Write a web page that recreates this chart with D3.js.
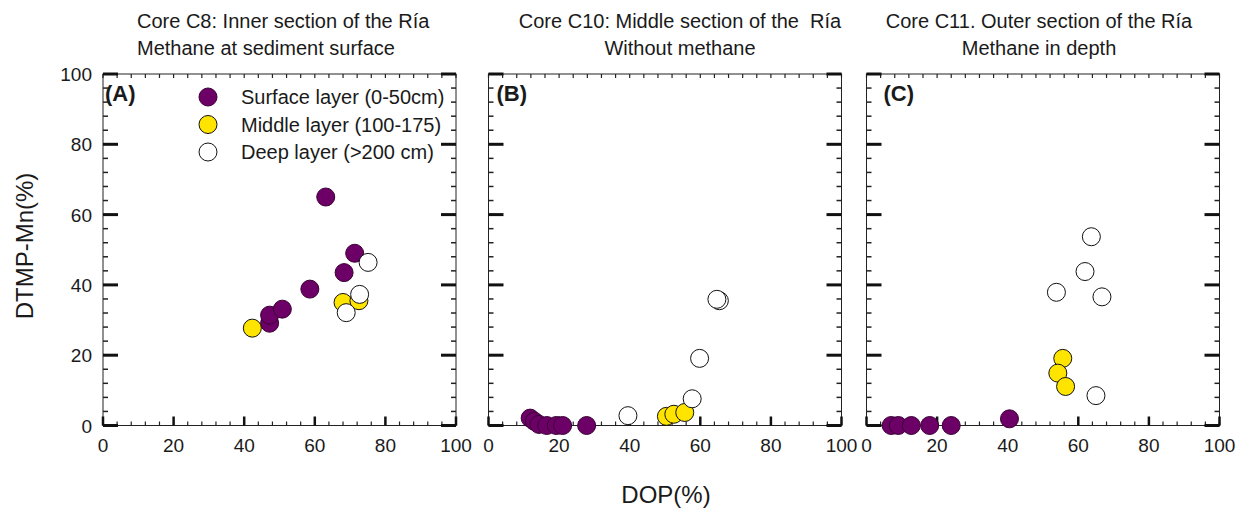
<!DOCTYPE html>
<html lang="en">
<head>
    <meta charset="utf-8"/>
    <title>DTMP-Mn vs DOP</title>
    <script src="https://d3js.org/d3.v7.min.js"></script>
    <style>
        body { margin: 0; background: #fff; }
        svg text { font-family: "Liberation Sans", Arial, sans-serif; fill: #1a1a1a; white-space: pre; }
    </style>
</head>
<body>
    <svg id="chart" width="1242" height="511"></svg>

    <script>
        // panel titles
        const panelLetters = ["(A)", "(B)", "(C)"];
        const titleLine1 = ["Core C8: Inner section of the Ría", "Core C10: Middle section of the  Ría", "Core C11. Outer section of the Ría"];
        const titleLine2 = ["Methane at sediment surface", "Without methane", "Methane in depth"];
        const legendLabels = ["Surface layer (0-50cm)", "Middle layer (100-175)", "Deep layer (>200 cm)"];
        const tickValues = [0, 20, 40, 60, 80, 100];

        // [DOP, DTMP-Mn] pairs
        const surfaceA = [[47.2, 29.1], [47.2, 31.4], [50.8, 33.1], [58.6, 38.8], [68.3, 43.5], [71.3, 49.0], [63.1, 65.0]];
        const middleA = [[42.3, 27.7], [68.0, 35.0], [72.5, 35.5]];
        const deepA = [[75.1, 46.4], [72.7, 37.3], [68.9, 32.1]];

        const surfaceB = [[11.8, 2.1], [13.0, 1.2], [14.3, 0.3], [16.5, 0], [19.2, 0], [21.0, 0], [27.8, 0]];
        const middleB = [[50.4, 2.6], [52.5, 3.2], [55.6, 3.7]];
        const deepB = [[39.5, 2.8], [57.7, 7.6], [59.8, 19.1], [65.4, 35.5], [64.7, 35.9]];

        const surfaceC = [[7.0, 0], [9.0, 0], [12.7, 0], [17.9, 0], [24.0, 0], [40.5, 1.9]];
        const middleC = [[55.6, 19.1], [54.2, 14.9], [56.4, 11.1]];
        const deepC = [[63.7, 53.7], [61.9, 43.8], [53.8, 37.9], [66.7, 36.6], [65.0, 8.5]];

        const surfaceSets = [surfaceA, surfaceB, surfaceC];
        const middleSets = [middleA, middleB, middleC];
        const deepSets = [deepA, deepB, deepC];

        const colors = {surface: "#6c0066", middle: "#ffe400", deep: "#ffffff"};

        // layout
        const panelLeft = [103, 488.5, 866.5];
        const panelW = 353;
        const plotTop = 74, plotBottom = 425.5;
        const letterOffset = [2, 8, 17];
        const titleX = [137, 680, 1039];
        const titleAnchor = ["start", "middle", "middle"];
        const r = 9;

        const svg = d3.select('#chart');
        const y = d3.scaleLinear().domain([0, 100]).range([plotBottom, plotTop]);

        function drawPanel(i) {
            const x = d3.scaleLinear().domain([0, 100]).range([panelLeft[i], panelLeft[i] + panelW]);
            const g = svg.append('g');
            const minor = d3.range(0, 101, 4);

            // frame
            g.append('rect')
                .attr('x', x(0)).attr('y', y(100))
                .attr('width', x(100) - x(0)).attr('height', y(0) - y(100))
                .attr('fill', 'none').attr('stroke', '#222').attr('stroke-width', 1);

            // minor ticks on all four sides
            minor.forEach(v => {
                g.append('line').attr('x1', x(v)).attr('x2', x(v)).attr('y1', y(100)).attr('y2', y(100) + 4)
                    .attr('stroke', '#222').attr('stroke-width', 1.2);
                g.append('line').attr('x1', x(v)).attr('x2', x(v)).attr('y1', y(0)).attr('y2', y(0) - 4)
                    .attr('stroke', '#222').attr('stroke-width', 1.2);
                g.append('line').attr('x1', x(0)).attr('x2', x(0) + 5).attr('y1', y(v)).attr('y2', y(v))
                    .attr('stroke', '#222').attr('stroke-width', 1.5);
                g.append('line').attr('x1', x(100)).attr('x2', x(100) - 5).attr('y1', y(v)).attr('y2', y(v))
                    .attr('stroke', '#222').attr('stroke-width', 1.5);
            });

            // major ticks
            tickValues.forEach(v => {
                g.append('line').attr('x1', x(v)).attr('x2', x(v)).attr('y1', y(0)).attr('y2', y(0) - 9)
                    .attr('stroke', '#111').attr('stroke-width', 2.5);
                g.append('line').attr('x1', x(0)).attr('x2', x(0) + 15).attr('y1', y(v)).attr('y2', y(v))
                    .attr('stroke', '#111').attr('stroke-width', 3);
                g.append('line').attr('x1', x(100)).attr('x2', x(100) - 15).attr('y1', y(v)).attr('y2', y(v))
                    .attr('stroke', '#111').attr('stroke-width', 3);
            });

            // x tick labels
            g.selectAll('.xt').data(tickValues).enter().append('text')
                .attr('x', d => x(d)).attr('y', 452)
                .attr('text-anchor', 'middle')
                .style('font-size', '19px')
                .text(d => d);

            // y tick labels only on first panel
            if (i === 0) {
                g.selectAll('.yt').data(tickValues).enter().append('text')
                    .attr('x', 92).attr('y', d => y(d) + 7)
                    .attr('text-anchor', 'end')
                    .style('font-size', '19px')
                    .text(d => d);
            }

            // titles
            g.append('text').attr('x', titleX[i]).attr('y', 28)
                .attr('text-anchor', titleAnchor[i]).style('font-size', '20px').text(titleLine1[i]);
            g.append('text').attr('x', titleX[i]).attr('y', 55)
                .attr('text-anchor', titleAnchor[i]).style('font-size', '20px').text(titleLine2[i]);

            // panel letter
            g.append('text').attr('x', x(0) + letterOffset[i]).attr('y', 101)
                .style('font-size', '22px').style('font-weight', 'bold').text(panelLetters[i]);

            // points: surface, middle, deep
            const groups = [
                {data: surfaceSets[i], fill: colors.surface, stroke: '#3a0034'},
                {data: middleSets[i], fill: colors.middle, stroke: '#111'},
                {data: deepSets[i], fill: colors.deep, stroke: '#111'}
            ];
            groups.forEach(s => {
                g.selectAll(null).data(s.data).enter().append('circle')
                    .attr('cx', d => x(d[0])).attr('cy', d => y(d[1]))
                    .attr('r', r)
                    .attr('fill', s.fill)
                    .attr('stroke', s.stroke)
                    .attr('stroke-width', 1);
            });
        }

        [0, 1, 2].forEach(drawPanel);

        // legend in panel A
        const legendFills = [colors.surface, colors.middle, colors.deep];
        const legend = svg.append('g').attr('transform', 'translate(208,97)');
        legendLabels.forEach((lab, k) => {
            legend.append('circle').attr('cx', 0).attr('cy', k * 27.5).attr('r', r)
                .attr('fill', legendFills[k]).attr('stroke', k === 0 ? '#3a0034' : '#111').attr('stroke-width', 1);
            legend.append('text').attr('x', 33).attr('y', k * 27.5 + 7)
                .style('font-size', '20px').text(lab);
        });

        // axis titles
        svg.append('text')
            .attr('transform', 'translate(33,246) rotate(-90)')
            .attr('text-anchor', 'middle')
            .style('font-size', '24px')
            .text('DTMP-Mn(%)');
        svg.append('text')
            .attr('x', 666).attr('y', 503)
            .attr('text-anchor', 'middle')
            .style('font-size', '24px')
            .text('DOP(%)');
    </script>
</body>
</html>
